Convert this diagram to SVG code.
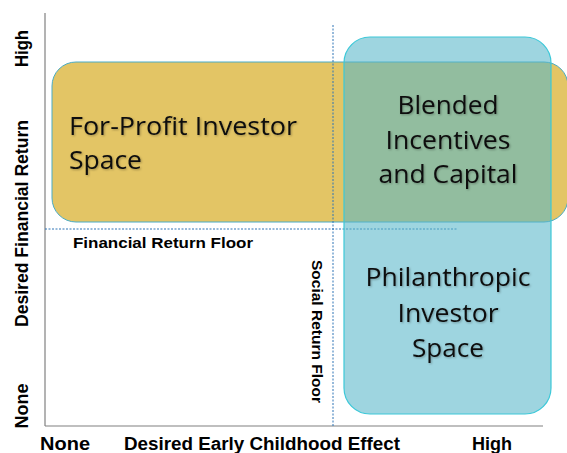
<svg xmlns="http://www.w3.org/2000/svg" width="567" height="453" viewBox="0 0 567 453">
<style>
.ax{font-family:"Liberation Sans",Arial,sans-serif;font-weight:bold;font-size:18px;fill:#000}
.fl{font-family:"Liberation Sans",Arial,sans-serif;font-weight:bold;font-size:14px;fill:#000}
.big{font-family:"Open Sans","Liberation Sans",sans-serif;font-size:26px;fill:#111;filter:url(#sh)}
.dash{stroke:#2E75B6;stroke-width:1;stroke-dasharray:2 1.5;fill:none}
</style>
<defs>
<filter id="sh" x="-5%" y="-20%" width="110%" height="140%">
<feDropShadow dx="1" dy="1" stdDeviation="0.8" flood-color="#000" flood-opacity="0.3"/>
</filter>
</defs>
<rect width="567" height="453" fill="#fff"/>
<g id="axes">
<line x1="45" y1="13" x2="45" y2="426" stroke="#808080" stroke-width="1.2"/>
<line x1="45" y1="426" x2="543" y2="426" stroke="#808080" stroke-width="1.2"/>
</g>
<g id="for-profit">
<rect x="52" y="62" width="516" height="160" rx="24" fill="#E3C565" stroke="#4BACC6" stroke-width="1"/>
<text class="big" x="69" y="135" textLength="228" lengthAdjust="spacingAndGlyphs">For-Profit Investor</text>
<text class="big" x="69" y="169" textLength="73" lengthAdjust="spacingAndGlyphs">Space</text>
</g>
<g id="connectors">
<line class="dash" x1="45" y1="229" x2="457" y2="229"/>
<line class="dash" x1="333" y1="25" x2="333" y2="426"/>
</g>
<g id="philanthropic">
<rect x="344" y="37" width="207" height="377" rx="26" fill="rgb(88,182,202)" fill-opacity="0.58" stroke="#3CC8D8" stroke-width="1.2"/>
<text class="big" x="448" y="114" text-anchor="middle" textLength="101" lengthAdjust="spacingAndGlyphs">Blended</text>
<text class="big" x="448" y="149" text-anchor="middle" textLength="125" lengthAdjust="spacingAndGlyphs">Incentives</text>
<text class="big" x="448" y="183" text-anchor="middle" textLength="139" lengthAdjust="spacingAndGlyphs">and Capital</text>
<text class="big" x="448" y="286" text-anchor="middle" textLength="165" lengthAdjust="spacingAndGlyphs">Philanthropic</text>
<text class="big" x="448" y="322" text-anchor="middle" textLength="101" lengthAdjust="spacingAndGlyphs">Investor</text>
<text class="big" x="448" y="357" text-anchor="middle" textLength="72" lengthAdjust="spacingAndGlyphs">Space</text>
</g>
<g id="labels">
<text class="fl" x="73" y="248" textLength="180" lengthAdjust="spacingAndGlyphs">Financial Return Floor</text>
<text class="fl" transform="translate(312,260) rotate(90)" x="0" y="0" textLength="143" lengthAdjust="spacingAndGlyphs">Social Return Floor</text>
<text class="ax" x="40" y="450" textLength="50" lengthAdjust="spacingAndGlyphs">None</text>
<text class="ax" x="124" y="450" textLength="276" lengthAdjust="spacingAndGlyphs">Desired Early Childhood Effect</text>
<text class="ax" x="472" y="450" textLength="40" lengthAdjust="spacingAndGlyphs">High</text>
<text class="ax" transform="translate(28,48.5) rotate(-90)" text-anchor="middle" textLength="37" lengthAdjust="spacingAndGlyphs">High</text>
<text class="ax" transform="translate(28,223.5) rotate(-90)" text-anchor="middle" textLength="207" lengthAdjust="spacingAndGlyphs">Desired Financial Return</text>
<text class="ax" transform="translate(28,406) rotate(-90)" text-anchor="middle" textLength="45" lengthAdjust="spacingAndGlyphs">None</text>
</g>
</svg>
